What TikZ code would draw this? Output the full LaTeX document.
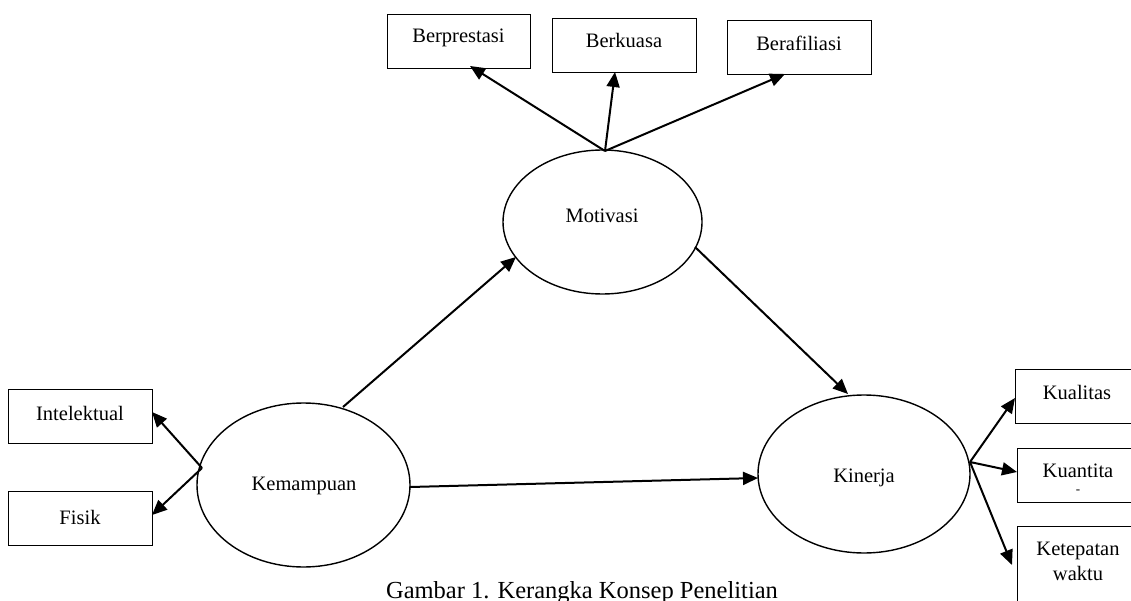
\documentclass[tikz,border=0pt]{standalone}
\usepackage{fontspec}
\setmainfont{Liberation Serif}
\usetikzlibrary{arrows.meta,shapes.geometric}
\begin{document}
\begin{tikzpicture}[x=1pt,y=-1pt,
  txt/.style={font=\fontsize{20.5}{25}\selectfont, inner sep=0pt, anchor=base},
  boxn/.style={draw, line width=1.1pt, minimum width=#1, minimum height=54pt, inner sep=0pt, anchor=north west},
  ell/.style={draw, ellipse, line width=1.4pt, inner sep=0pt},
  arr/.style={line width=2pt, -{Triangle[length=15pt,width=13pt]}, shorten >=0pt}
]
\useasboundingbox (0,0) rectangle (1131,601);
\clip (0,0) rectangle (1131,601);
% ellipses
\node[ell, minimum width=199pt, minimum height=144pt] (mot) at (602.5,222) {};
\node[ell, minimum width=213pt, minimum height=164pt] (kem) at (303.5,485) {};
\node[ell, minimum width=212pt, minimum height=158pt] (kin) at (864,474) {};
\node[txt] (tmot) at (602,223) {Motivasi};
\node[txt] (tkem) at (304,490) {Kemampuan};
\node[txt] (tkin) at (864,482) {Kinerja};
% boxes
\node[boxn=143pt] (bp) at (387,14) {};
\node[boxn=144pt] (bk) at (552,18) {};
\node[boxn=144pt] (ba) at (727,20) {};
\node[boxn=144pt] (in) at (8,389) {};
\node[boxn=144pt] (fi) at (8,491) {};
\node[boxn=126pt] (ku) at (1015,369) {};
\node[boxn=124pt] (kt) at (1017,448) {};
\node[boxn=124pt, minimum height=90pt] (kw) at (1017,526) {};
\node[txt] (tbp) at (458.5,43) {Berprestasi};
\node[txt] (tbk) at (624,48) {Berkuasa};
\node[txt] (tba) at (799,51) {Berafiliasi};
\node[txt] (tin) at (80,420) {Intelektual};
\node[txt] (tfi) at (80,524) {Fisik};
\node[txt] (tku) at (1077,399) {Kualitas};
\node[txt] (tkt) at (1078,477) {Kuantita};
\node[inner sep=0pt, font=\fontsize{13}{13}\selectfont] (tkd) at (1078,492) {-};
\node[txt] (tkw1) at (1078,555) {Ketepatan};
\node[txt] (tkw2) at (1078,580) {waktu};
% caption
\node[font=\fontsize{24.5}{28}\selectfont, inner sep=0pt, anchor=base] (cap) at (582,598) {Gambar 1. Kerangka Konsep Penelitian};
% connector endpoints
\coordinate (mtop) at (605,151);
\coordinate (bpt) at (470,66);
\coordinate (bkt) at (615,72);
\coordinate (bat) at (785,74);
\coordinate (kemA) at (343,407);
\coordinate (motA) at (516,257);
\coordinate (motB) at (695,247);
\coordinate (kinA) at (848,394);
\coordinate (kemB) at (410,487);
\coordinate (kinB) at (758,478);
\coordinate (kemL) at (202,468);
\coordinate (inT) at (152,412);
\coordinate (fiT) at (152,515);
\coordinate (kinR) at (970,462);
\coordinate (kuT) at (1015,398);
\coordinate (ktT) at (1017,472);
\coordinate (kwT) at (1012,565);
% arrows
\draw[arr] (mtop) -- (bpt);
\draw[arr] (mtop) -- (bkt);
\draw[arr] (mtop) -- (bat);
\draw[arr] (kemA) -- (motA);
\draw[arr] (motB) -- (kinA);
\draw[arr] (kemB) -- (kinB);
\draw[arr] (kemL) -- (inT);
\draw[arr] (kemL) -- (fiT);
\draw[arr] (kinR) -- (kuT);
\draw[arr] (kinR) -- (ktT);
\draw[arr] (kinR) -- (kwT);
\end{tikzpicture}
\end{document}
